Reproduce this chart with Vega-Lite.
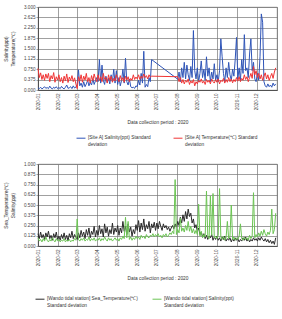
{
  "$schema": "https://vega.github.io/schema/vega-lite/v6.json",
  "padding": {"left": 3, "top": 3, "right": 4, "bottom": 0},
  "background": "white",
  "config": {
    "font": "Liberation Sans",
    "view": {"stroke": "#777", "strokeWidth": 0.8},
    "axis": {
      "labelFont": "Liberation Sans", "labelFontSize": 4.6, "labelColor": "#444",
      "titleFont": "Liberation Sans", "titleFontSize": 4.8, "titleFontWeight": "normal", "titleColor": "#333",
      "gridColor": "#777", "gridWidth": 0.7, "domainColor": "#444", "domainWidth": 0.8,
      "tickColor": "#777", "tickSize": 2, "tickWidth": 0.7, "labelPadding": 1
    },
    "legend": {
      "labelFont": "Liberation Sans", "labelFontSize": 4.8, "labelColor": "#333", "labelLimit": 300,
      "symbolType": "stroke", "symbolSize": 80, "symbolStrokeWidth": 1, "labelOffset": 2
    },
    "line": {"strokeWidth": 1, "interpolate": "linear"}
  },
  "datasets": {
    "daily": [
      {"date":"2020-01-01","s":0.08,"t":0.78,"w":0.15,"g":0.10},
      {"date":"2020-01-03","s":0.05,"t":0.45,"w":0.09,"g":0.06},
      {"date":"2020-01-05","s":0.10,"t":0.62,"w":0.17,"g":0.08},
      {"date":"2020-01-07","s":0.04,"t":0.38,"w":0.10,"g":0.05},
      {"date":"2020-01-09","s":0.07,"t":0.55,"w":0.14,"g":0.09},
      {"date":"2020-01-11","s":0.12,"t":0.35,"w":0.08,"g":0.06},
      {"date":"2020-01-13","s":0.06,"t":0.58,"w":0.16,"g":0.11},
      {"date":"2020-01-15","s":0.09,"t":0.42,"w":0.11,"g":0.07},
      {"date":"2020-01-17","s":0.05,"t":0.60,"w":0.18,"g":0.05},
      {"date":"2020-01-19","s":0.14,"t":0.30,"w":0.09,"g":0.08},
      {"date":"2020-01-21","s":0.07,"t":0.52,"w":0.13,"g":0.06},
      {"date":"2020-01-23","s":0.04,"t":0.40,"w":0.07,"g":0.10},
      {"date":"2020-01-25","s":0.10,"t":0.63,"w":0.15,"g":0.07},
      {"date":"2020-01-27","s":0.06,"t":0.28,"w":0.10,"g":0.05},
      {"date":"2020-01-29","s":0.12,"t":0.48,"w":0.17,"g":0.09},
      {"date":"2020-01-31","s":0.05,"t":0.36,"w":0.08,"g":0.06},
      {"date":"2020-02-02","s":0.09,"t":0.55,"w":0.12,"g":0.08},
      {"date":"2020-02-04","s":0.05,"t":0.30,"w":0.07,"g":0.05},
      {"date":"2020-02-06","s":0.13,"t":0.45,"w":0.14,"g":0.07},
      {"date":"2020-02-08","s":0.07,"t":0.25,"w":0.09,"g":0.06},
      {"date":"2020-02-10","s":0.04,"t":0.50,"w":0.16,"g":0.09},
      {"date":"2020-02-12","s":0.10,"t":0.33,"w":0.08,"g":0.05},
      {"date":"2020-02-14","s":0.18,"t":0.58,"w":0.13,"g":0.07},
      {"date":"2020-02-16","s":0.06,"t":0.27,"w":0.06,"g":0.06},
      {"date":"2020-02-18","s":0.08,"t":0.47,"w":0.15,"g":0.08},
      {"date":"2020-02-20","s":0.12,"t":0.35,"w":0.10,"g":0.05},
      {"date":"2020-02-22","s":0.05,"t":0.52,"w":0.18,"g":0.07},
      {"date":"2020-02-24","s":0.15,"t":0.30,"w":0.09,"g":0.06},
      {"date":"2020-02-26","s":0.07,"t":0.44,"w":0.14,"g":0.09},
      {"date":"2020-02-28","s":0.10,"t":0.22,"w":0.11,"g":0.07},
      {"date":"2020-03-01","s":0.20,"t":0.05,"w":0.08,"g":0.33},
      {"date":"2020-03-03","s":0.73,"t":0.48,"w":0.16,"g":0.08},
      {"date":"2020-03-05","s":0.15,"t":0.32,"w":0.10,"g":0.06},
      {"date":"2020-03-07","s":0.25,"t":0.55,"w":0.19,"g":0.09},
      {"date":"2020-03-09","s":0.10,"t":0.28,"w":0.12,"g":0.07},
      {"date":"2020-03-11","s":0.30,"t":0.50,"w":0.17,"g":0.10},
      {"date":"2020-03-13","s":0.12,"t":0.36,"w":0.09,"g":0.06},
      {"date":"2020-03-15","s":0.22,"t":0.60,"w":0.20,"g":0.08},
      {"date":"2020-03-17","s":0.35,"t":0.30,"w":0.13,"g":0.07},
      {"date":"2020-03-19","s":0.15,"t":0.45,"w":0.22,"g":0.11},
      {"date":"2020-03-21","s":0.28,"t":0.25,"w":0.10,"g":0.06},
      {"date":"2020-03-23","s":0.18,"t":0.52,"w":0.18,"g":0.09},
      {"date":"2020-03-25","s":0.40,"t":0.34,"w":0.14,"g":0.07},
      {"date":"2020-03-27","s":0.20,"t":0.58,"w":0.24,"g":0.10},
      {"date":"2020-03-29","s":0.33,"t":0.40,"w":0.11,"g":0.06},
      {"date":"2020-03-31","s":0.45,"t":0.30,"w":0.19,"g":0.08},
      {"date":"2020-04-02","s":0.30,"t":0.55,"w":0.13,"g":0.07},
      {"date":"2020-04-04","s":1.10,"t":0.35,"w":0.25,"g":0.10},
      {"date":"2020-04-06","s":0.25,"t":0.48,"w":0.15,"g":0.06},
      {"date":"2020-04-08","s":0.90,"t":0.30,"w":0.21,"g":0.09},
      {"date":"2020-04-10","s":0.35,"t":0.60,"w":0.11,"g":0.07},
      {"date":"2020-04-12","s":0.20,"t":0.38,"w":0.27,"g":0.11},
      {"date":"2020-04-14","s":0.50,"t":0.45,"w":0.16,"g":0.08},
      {"date":"2020-04-16","s":0.28,"t":0.25,"w":0.23,"g":0.06},
      {"date":"2020-04-18","s":0.42,"t":0.55,"w":0.12,"g":0.10},
      {"date":"2020-04-20","s":0.22,"t":0.35,"w":0.20,"g":0.07},
      {"date":"2020-04-22","s":0.55,"t":0.50,"w":0.15,"g":0.09},
      {"date":"2020-04-24","s":0.30,"t":0.28,"w":0.28,"g":0.06},
      {"date":"2020-04-26","s":0.75,"t":0.42,"w":0.14,"g":0.08},
      {"date":"2020-04-28","s":0.25,"t":0.33,"w":0.22,"g":0.10},
      {"date":"2020-04-30","s":0.70,"t":0.55,"w":0.17,"g":0.07},
      {"date":"2020-05-02","s":0.20,"t":0.40,"w":0.25,"g":0.09},
      {"date":"2020-05-04","s":0.45,"t":0.30,"w":0.13,"g":0.06},
      {"date":"2020-05-06","s":0.15,"t":0.52,"w":0.22,"g":0.10},
      {"date":"2020-05-08","s":0.35,"t":0.35,"w":0.16,"g":0.08},
      {"date":"2020-05-10","s":0.75,"t":0.45,"w":0.30,"g":0.12},
      {"date":"2020-05-12","s":0.25,"t":0.28,"w":0.18,"g":0.09},
      {"date":"2020-05-14","s":1.15,"t":0.50,"w":0.24,"g":0.35},
      {"date":"2020-05-16","s":0.30,"t":0.36,"w":0.14,"g":0.10},
      {"date":"2020-05-18","s":0.18,"t":0.48,"w":0.27,"g":0.30},
      {"date":"2020-05-20","s":0.40,"t":0.30,"w":0.17,"g":0.08},
      {"date":"2020-05-22","s":0.12,"t":0.42,"w":0.23,"g":0.11},
      {"date":"2020-05-24","s":0.08,"t":0.35,"w":0.12,"g":0.07},
      {"date":"2020-05-26","s":0.10,"t":0.55,"w":0.20,"g":0.10},
      {"date":"2020-05-28","s":0.06,"t":0.38,"w":0.15,"g":0.08},
      {"date":"2020-05-30","s":0.15,"t":0.47,"w":0.26,"g":0.12},
      {"date":"2020-06-01","s":0.12,"t":0.40,"w":0.19,"g":0.09},
      {"date":"2020-06-03","s":0.35,"t":0.55,"w":0.31,"g":0.11},
      {"date":"2020-06-05","s":0.18,"t":0.38,"w":0.17,"g":0.08},
      {"date":"2020-06-07","s":0.60,"t":0.50,"w":0.28,"g":0.13},
      {"date":"2020-06-09","s":0.25,"t":0.42,"w":0.20,"g":0.10},
      {"date":"2020-06-11","s":1.40,"t":0.58,"w":0.33,"g":0.12},
      {"date":"2020-06-13","s":0.10,"t":0.45,"w":0.18,"g":0.09},
      {"date":"2020-06-15","s":0.20,"t":0.52,"w":0.26,"g":0.14},
      {"date":"2020-06-17","s":0.12,"t":0.40,"w":0.21,"g":0.11},
      {"date":"2020-06-19","s":0.45,"t":0.55,"w":0.30,"g":0.10},
      {"date":"2020-06-21","s":0.30,"t":0.46,"w":0.16,"g":0.13},
      {"date":"2020-06-23","s":1.10,"t":0.50,"w":0.27,"g":0.12},
      {"date":"2020-06-25","w":0.22,"g":0.15},
      {"date":"2020-06-27","w":0.29,"g":0.11},
      {"date":"2020-06-29","w":0.19,"g":0.14},
      {"date":"2020-07-01","w":0.28,"g":0.12},
      {"date":"2020-07-03","w":0.21,"g":0.15},
      {"date":"2020-07-05","w":0.30,"g":0.11},
      {"date":"2020-07-07","w":0.24,"g":0.13},
      {"date":"2020-07-09","w":0.19,"g":0.10},
      {"date":"2020-07-11","w":0.27,"g":0.14},
      {"date":"2020-07-13","w":0.22,"g":0.12},
      {"date":"2020-07-15","w":0.25,"g":0.15},
      {"date":"2020-07-17","w":0.20,"g":0.11},
      {"date":"2020-07-19","w":0.23,"g":0.13},
      {"date":"2020-07-21","w":0.18,"g":0.16},
      {"date":"2020-07-23","w":0.22,"g":0.14},
      {"date":"2020-07-25","w":0.25,"g":0.18},
      {"date":"2020-07-27","w":0.21,"g":0.15},
      {"date":"2020-07-29","w":0.27,"g":0.81},
      {"date":"2020-07-31","w":0.23,"g":0.14},
      {"date":"2020-08-02","s":0.39,"t":0.48,"w":0.30,"g":0.20},
      {"date":"2020-08-04","s":0.65,"t":0.30,"w":0.25,"g":0.16},
      {"date":"2020-08-06","s":0.30,"t":0.45,"w":0.35,"g":0.34},
      {"date":"2020-08-08","s":0.80,"t":0.25,"w":0.28,"g":0.18},
      {"date":"2020-08-10","s":0.45,"t":0.38,"w":0.38,"g":0.22},
      {"date":"2020-08-12","s":1.00,"t":0.22,"w":0.30,"g":0.17},
      {"date":"2020-08-14","s":0.40,"t":0.35,"w":0.42,"g":0.25},
      {"date":"2020-08-16","s":0.90,"t":0.28,"w":0.33,"g":0.19},
      {"date":"2020-08-18","s":0.55,"t":0.40,"w":0.45,"g":0.30},
      {"date":"2020-08-20","s":0.35,"t":0.20,"w":0.36,"g":0.18},
      {"date":"2020-08-22","s":0.85,"t":0.33,"w":0.40,"g":0.24},
      {"date":"2020-08-24","s":0.45,"t":0.25,"w":0.28,"g":0.16},
      {"date":"2020-08-26","s":2.15,"t":0.38,"w":0.33,"g":0.21},
      {"date":"2020-08-28","s":0.70,"t":0.15,"w":0.22,"g":0.15},
      {"date":"2020-08-30","s":0.40,"t":0.30,"w":0.26,"g":0.19},
      {"date":"2020-09-01","s":0.80,"t":0.22,"w":0.18,"g":0.14},
      {"date":"2020-09-03","s":0.30,"t":0.35,"w":0.22,"g":0.51},
      {"date":"2020-09-05","s":0.60,"t":0.28,"w":0.14,"g":0.12},
      {"date":"2020-09-07","s":1.05,"t":0.40,"w":0.17,"g":0.18},
      {"date":"2020-09-09","s":0.45,"t":0.25,"w":0.11,"g":0.10},
      {"date":"2020-09-11","s":0.75,"t":0.32,"w":0.15,"g":0.14},
      {"date":"2020-09-13","s":0.35,"t":0.20,"w":0.09,"g":0.11},
      {"date":"2020-09-15","s":1.20,"t":0.38,"w":0.13,"g":0.67},
      {"date":"2020-09-17","s":0.50,"t":0.28,"w":0.08,"g":0.12},
      {"date":"2020-09-19","s":0.80,"t":0.35,"w":0.12,"g":0.09},
      {"date":"2020-09-21","s":0.30,"t":0.22,"w":0.10,"g":0.61},
      {"date":"2020-09-23","s":0.65,"t":0.40,"w":0.14,"g":0.13},
      {"date":"2020-09-25","s":0.40,"t":0.30,"w":0.07,"g":0.64},
      {"date":"2020-09-27","s":0.95,"t":0.25,"w":0.11,"g":0.10},
      {"date":"2020-09-29","s":0.35,"t":0.37,"w":0.08,"g":0.12},
      {"date":"2020-10-01","s":0.55,"t":0.28,"w":0.12,"g":0.09},
      {"date":"2020-10-03","s":0.30,"t":0.40,"w":0.07,"g":0.13},
      {"date":"2020-10-05","s":0.70,"t":0.22,"w":0.10,"g":0.70},
      {"date":"2020-10-07","s":1.85,"t":0.35,"w":0.06,"g":0.11},
      {"date":"2020-10-09","s":1.20,"t":0.30,"w":0.11,"g":0.08},
      {"date":"2020-10-11","s":0.60,"t":0.42,"w":0.08,"g":0.12},
      {"date":"2020-10-13","s":0.30,"t":0.25,"w":0.12,"g":0.07},
      {"date":"2020-10-15","s":0.80,"t":0.38,"w":0.06,"g":0.10},
      {"date":"2020-10-17","s":0.45,"t":0.28,"w":0.09,"g":0.30},
      {"date":"2020-10-19","s":1.00,"t":0.45,"w":0.07,"g":0.09},
      {"date":"2020-10-21","s":0.55,"t":0.30,"w":0.10,"g":0.12},
      {"date":"2020-10-23","s":0.35,"t":0.40,"w":0.05,"g":0.50},
      {"date":"2020-10-25","s":0.75,"t":0.26,"w":0.09,"g":0.08},
      {"date":"2020-10-27","s":0.50,"t":0.38,"w":0.06,"g":0.11},
      {"date":"2020-10-29","s":1.10,"t":0.30,"w":0.10,"g":0.07},
      {"date":"2020-10-31","s":1.90,"t":0.45,"w":0.07,"g":0.10},
      {"date":"2020-11-02","s":0.40,"t":0.32,"w":0.09,"g":0.08},
      {"date":"2020-11-04","s":0.80,"t":0.48,"w":0.05,"g":0.12},
      {"date":"2020-11-06","s":0.35,"t":0.30,"w":0.08,"g":0.27},
      {"date":"2020-11-08","s":1.10,"t":0.42,"w":0.06,"g":0.09},
      {"date":"2020-11-10","s":0.60,"t":0.35,"w":0.10,"g":0.07},
      {"date":"2020-11-12","s":2.00,"t":0.55,"w":0.07,"g":0.11},
      {"date":"2020-11-14","s":0.70,"t":0.38,"w":0.11,"g":0.08},
      {"date":"2020-11-16","s":0.80,"t":0.48,"w":0.06,"g":0.10},
      {"date":"2020-11-18","s":0.45,"t":0.30,"w":0.09,"g":0.07},
      {"date":"2020-11-20","s":1.30,"t":0.45,"w":0.05,"g":0.13},
      {"date":"2020-11-22","s":1.85,"t":0.60,"w":0.08,"g":0.09},
      {"date":"2020-11-24","s":0.70,"t":0.42,"w":0.06,"g":0.12},
      {"date":"2020-11-26","s":1.00,"t":0.85,"w":0.10,"g":0.65},
      {"date":"2020-11-28","s":0.40,"t":0.55,"w":0.07,"g":0.10},
      {"date":"2020-11-30","s":0.30,"t":0.70,"w":0.09,"g":0.14},
      {"date":"2020-12-02","s":0.60,"t":0.45,"w":0.06,"g":0.11},
      {"date":"2020-12-04","s":0.35,"t":0.60,"w":0.10,"g":0.16},
      {"date":"2020-12-06","s":1.20,"t":0.40,"w":0.07,"g":0.12},
      {"date":"2020-12-08","s":2.75,"t":0.55,"w":0.11,"g":0.18},
      {"date":"2020-12-10","s":2.45,"t":0.35,"w":0.08,"g":0.13},
      {"date":"2020-12-12","s":0.30,"t":0.50,"w":0.06,"g":0.20},
      {"date":"2020-12-14","s":0.15,"t":0.62,"w":0.09,"g":0.15},
      {"date":"2020-12-16","s":0.10,"t":0.40,"w":0.05,"g":0.12},
      {"date":"2020-12-18","s":0.22,"t":0.55,"w":0.08,"g":0.17},
      {"date":"2020-12-20","s":0.12,"t":0.35,"w":0.04,"g":0.14},
      {"date":"2020-12-22","s":0.18,"t":0.48,"w":0.07,"g":0.19},
      {"date":"2020-12-24","s":0.10,"t":0.60,"w":0.03,"g":0.45},
      {"date":"2020-12-26","s":0.25,"t":0.42,"w":0.06,"g":0.15},
      {"date":"2020-12-28","s":0.15,"t":0.65,"w":0.02,"g":0.20},
      {"date":"2020-12-30","s":0.22,"t":0.80,"w":0.10,"g":0.40}
    ]
  },
  "spacing": 12,
  "resolve": {"scale": {"color": "independent"}},
  "vconcat": [
    {
      "width": 239,
      "height": 83,
      "data": {"name": "daily"},
      "transform": [
        {"fold": ["s", "t"], "as": ["series", "value"]},
        {"filter": "isValid(datum.value)"}
      ],
      "mark": {"type": "line"},
      "encoding": {
        "x": {
          "field": "date", "type": "temporal",
          "scale": {"type": "utc", "domain": [{"year": 2020, "month": 1, "date": 1, "utc": true}, {"year": 2021, "month": 1, "date": 1, "utc": true}]},
          "axis": {
            "title": "Data collection period : 2020", "titlePadding": 10,
            "tickCount": {"interval": "month", "step": 1},
            "labelExpr": "utcyear(datum.value) > 2020 ? '' : utcFormat(datum.value, '%Y-%m')",
            "labelAngle": 270, "labelPadding": 3, "ticks": false, "labelOverlap": false
          }
        },
        "y": {
          "field": "value", "type": "quantitative",
          "scale": {"domain": [0, 3]},
          "axis": {
            "title": ["Salinity(ppt)", "Temperature(℃)"], "titlePadding": 8,
            "values": [0, 0.375, 0.75, 1.125, 1.5, 1.875, 2.25, 2.625, 3], "format": ".3f"
          }
        },
        "color": {
          "field": "series", "type": "nominal",
          "scale": {"domain": ["s", "t"], "range": ["#2f55b8", "#f03535"]},
          "legend": {
            "title": null, "orient": "none", "direction": "horizontal", "columns": 2,
            "legendX": 38, "legendY": 126, "columnPadding": 20,
            "labelExpr": "datum.value == 's' ? ['[Site A] Salinity(ppt) Standard', 'deviation'] : ['[Site A]  Temperature(℃) Standard', 'deviation']"
          }
        }
      }
    },
    {
      "width": 239,
      "height": 82,
      "data": {"name": "daily"},
      "transform": [
        {"fold": ["w", "g"], "as": ["series", "value"]},
        {"filter": "isValid(datum.value)"}
      ],
      "mark": {"type": "line"},
      "encoding": {
        "x": {
          "field": "date", "type": "temporal",
          "scale": {"type": "utc", "domain": [{"year": 2020, "month": 1, "date": 1, "utc": true}, {"year": 2021, "month": 1, "date": 1, "utc": true}]},
          "axis": {
            "title": "Data collection period : 2020", "titlePadding": 10,
            "tickCount": {"interval": "month", "step": 1},
            "labelExpr": "utcyear(datum.value) > 2020 ? '' : utcFormat(datum.value, '%Y-%m')",
            "labelAngle": 270, "labelPadding": 3, "ticks": false, "labelOverlap": false
          }
        },
        "y": {
          "field": "value", "type": "quantitative",
          "scale": {"domain": [0, 1]},
          "axis": {
            "title": ["Sea_Temperature(℃)", "Salinity(ppt)"], "titlePadding": 8,
            "values": [0, 0.125, 0.25, 0.375, 0.5, 0.625, 0.75, 0.875, 1], "format": ".3f"
          }
        },
        "color": {
          "field": "series", "type": "nominal",
          "scale": {"domain": ["w", "g"], "range": ["#2a2a2a", "#6cc454"]},
          "legend": {
            "title": null, "orient": "none", "direction": "horizontal", "columns": 2,
            "legendX": -3, "legendY": 130, "columnPadding": 12,
            "labelExpr": "datum.value == 'w' ? ['[Wando tidal station] Sea_Temperature(℃)', 'Standard deviation'] : ['[Wando tidal station] Salinity(ppt)', 'Standard deviation']"
          }
        }
      }
    }
  ]
}
